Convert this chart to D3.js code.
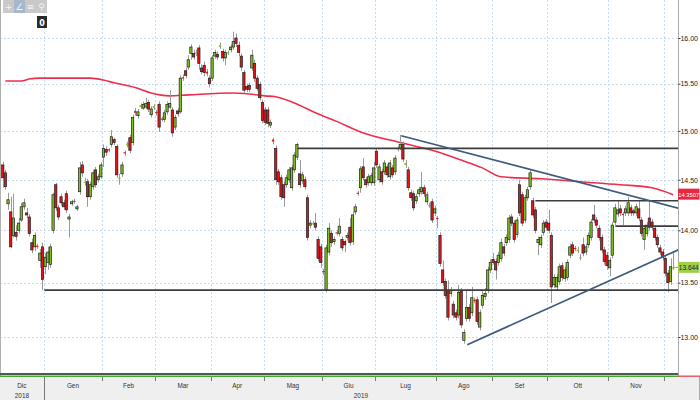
<!DOCTYPE html>
<html><head><meta charset="utf-8">
<script src="https://cdn.jsdelivr.net/npm/d3@7"></script>
<style>
body{margin:0;background:#fff;}
svg{display:block;font-family:"Liberation Sans",sans-serif;}
</style>
</head><body>
<svg id="c" width="700" height="400"></svg>
<script>
// ---- data (prices) ----
const opens=[14.65,14.57,14.26,14.18,13.95,13.98,14.00,14.10,14.23,14.17,14.13,13.88,13.84,13.85,13.71,13.84,13.65,13.69,13.67,14.00,
14.45,14.22,14.33,14.27,14.36,14.11,14.26,14.29,14.21,14.38,14.65,14.47,14.48,14.33,14.43,14.60,14.50,14.53,14.73,14.81,
14.81,14.86,14.91,14.84,14.51,14.56,14.78,14.85,14.93,14.88,15.21,15.16,15.25,15.24,15.25,15.30,15.17,15.24,15.20,15.28,
15.13,15.12,15.20,15.25,15.22,15.04,15.21,15.20,15.57,15.64,15.68,15.83,15.83,15.83,15.89,15.67,15.70,15.63,15.56,15.56,
15.80,15.82,15.90,15.85,15.78,15.83,15.87,15.90,16.00,15.92,15.80,15.62,15.47,15.48,15.67,15.72,15.56,15.49,15.30,15.22,
15.22,15.06,14.91,14.82,14.58,14.52,14.45,14.45,14.50,14.42,14.60,14.73,14.56,14.49,14.50,14.32,14.05,14.06,14.07,13.91,
13.84,13.61,13.43,13.79,13.97,13.89,13.98,13.97,13.91,13.89,13.93,14.03,13.89,14.18,14.37,14.42,14.63,14.50,14.47,14.47,
14.47,14.79,14.50,14.58,14.58,14.63,14.53,14.62,14.58,14.81,14.82,14.86,14.65,14.60,14.37,14.36,14.29,14.36,14.38,14.42,
14.28,14.24,14.28,14.17,14.12,13.95,13.62,13.51,13.43,13.40,13.30,13.22,13.20,13.42,12.97,13.17,13.27,13.22,13.34,13.34,
13.09,13.29,13.37,13.43,13.62,13.72,13.70,13.69,13.73,13.84,13.88,13.91,14.13,14.07,13.96,14.45,14.35,14.10,14.32,14.43,
14.29,14.20,13.88,13.86,13.98,14.08,14.07,13.95,13.48,13.46,13.51,13.66,13.54,13.55,13.76,13.86,13.83,13.80,13.73,13.86,
13.79,13.86,13.93,14.15,14.10,14.02,13.93,13.81,13.76,13.64,13.76,14.08,14.16,14.21,14.16,14.17,14.17,14.22,14.19,14.17,
14.21,14.10,13.91,13.97,14.12,14.08,14.02,13.93,13.83,13.79,13.73,13.59,13.51,13.64];
const highs=[14.68,14.60,14.37,14.33,14.36,14.05,14.12,14.27,14.31,14.22,14.16,13.92,13.98,13.87,13.82,13.88,13.78,13.84,13.87,14.37,
14.47,14.25,14.36,14.30,14.39,14.16,14.30,14.31,14.25,14.68,14.69,14.52,14.51,14.48,14.60,14.63,14.56,14.68,14.86,14.84,
14.82,15.01,14.93,14.86,14.56,14.68,14.80,14.89,14.96,15.17,15.24,15.23,15.29,15.31,15.35,15.33,15.26,15.28,15.22,15.31,
15.15,15.22,15.31,15.43,15.25,15.17,15.24,15.59,15.60,15.67,15.81,15.93,15.87,15.87,15.92,15.71,15.74,15.66,15.59,15.81,
15.87,15.85,15.95,15.88,15.87,15.86,15.93,16.07,16.05,15.96,15.83,15.65,15.50,15.51,15.87,15.76,15.59,15.52,15.33,15.25,
15.25,15.12,14.93,14.85,14.61,14.55,14.48,14.55,14.63,14.65,14.78,14.88,14.70,14.58,14.53,14.35,14.10,14.09,14.17,13.94,
13.87,13.63,13.86,14.07,14.00,13.94,14.00,14.12,13.94,13.91,13.98,14.12,14.18,14.26,14.39,14.64,14.72,14.53,14.56,14.57,
14.68,14.82,14.66,14.61,14.70,14.66,14.70,14.65,14.75,14.84,14.96,14.89,14.70,14.63,14.40,14.39,14.36,14.43,14.58,14.45,
14.38,14.27,14.31,14.24,14.14,13.98,13.71,13.54,13.52,13.46,13.33,13.25,13.48,13.45,13.07,13.43,13.30,13.46,13.36,13.37,
13.25,13.42,13.45,13.65,13.72,13.78,13.73,13.79,13.92,13.87,13.96,14.15,14.16,14.10,14.13,14.50,14.38,14.35,14.43,14.60,
14.32,14.23,13.94,13.96,14.10,14.11,14.20,13.98,13.58,13.58,13.68,13.69,13.65,13.72,13.87,13.89,13.85,13.84,13.77,13.93,
13.87,13.98,14.11,14.25,14.13,14.05,13.96,13.84,13.79,13.74,14.08,14.26,14.29,14.25,14.18,14.24,14.33,14.25,14.21,14.26,
14.30,14.13,14.05,14.08,14.29,14.11,14.05,13.96,13.86,13.82,13.76,13.62,13.73,13.78];
const lows=[14.42,14.40,14.20,13.83,13.93,13.90,13.97,14.08,14.20,14.12,13.94,13.78,13.80,13.82,13.64,13.43,13.58,13.62,13.64,13.97,
14.19,14.10,14.24,14.20,14.17,13.93,14.24,14.26,14.19,14.35,14.53,14.44,14.23,14.30,14.40,14.42,14.47,14.51,14.63,14.74,
14.78,14.83,14.85,14.52,14.45,14.53,14.74,14.83,14.77,14.85,15.16,15.13,15.23,15.22,15.23,15.20,15.14,15.22,15.16,14.99,
15.10,15.09,15.17,15.23,14.94,15.01,15.15,15.18,15.53,15.56,15.65,15.76,15.76,15.80,15.65,15.60,15.58,15.58,15.46,15.53,
15.77,15.76,15.88,15.74,15.70,15.81,15.84,15.87,15.90,15.80,15.64,15.40,15.41,15.41,15.64,15.52,15.42,15.32,15.08,15.06,
15.04,15.03,14.86,14.45,14.45,14.30,14.23,14.42,14.47,14.39,14.57,14.70,14.42,14.46,14.40,13.90,14.02,14.05,14.00,13.70,
13.64,13.57,13.41,13.76,13.84,13.86,13.95,13.94,13.80,13.79,13.90,13.85,13.86,14.15,14.34,14.37,14.49,14.42,14.44,14.44,
14.44,14.62,14.47,14.45,14.55,14.52,14.50,14.52,14.55,14.79,14.80,14.68,14.62,14.39,14.29,14.19,14.26,14.33,14.35,14.33,
14.25,14.22,14.07,14.14,14.02,13.65,13.47,13.35,13.15,13.37,13.17,13.15,13.17,13.08,12.94,13.14,13.14,13.19,13.31,13.11,
13.06,13.26,13.34,13.40,13.59,13.67,13.53,13.66,13.70,13.75,13.85,13.88,14.04,13.88,13.93,14.14,14.04,14.07,14.29,14.40,
14.12,13.97,13.76,13.83,13.95,14.00,13.97,13.31,13.45,13.43,13.48,13.52,13.51,13.52,13.73,13.75,13.80,13.78,13.71,13.75,
13.76,13.83,13.90,14.07,14.02,13.90,13.78,13.67,13.62,13.56,13.73,14.05,14.13,14.14,14.05,14.14,14.14,14.14,14.14,14.14,
14.09,13.94,13.81,13.94,14.00,14.00,13.90,13.83,13.76,13.71,13.56,13.41,13.48,13.62];
const closes=[14.52,14.43,14.30,13.84,14.12,13.94,14.07,14.23,14.27,14.15,13.97,13.81,13.95,13.84,13.78,13.53,13.74,13.79,13.84,14.35,
14.22,14.13,14.27,14.23,14.20,14.13,14.28,14.28,14.23,14.62,14.57,14.48,14.33,14.45,14.57,14.45,14.53,14.65,14.82,14.78,
14.80,14.94,14.88,14.55,14.52,14.65,14.77,14.87,14.80,15.14,15.19,15.20,15.27,15.28,15.29,15.23,15.23,15.26,15.19,15.04,
15.12,15.19,15.28,15.29,14.98,15.14,15.18,15.56,15.56,15.59,15.76,15.90,15.79,15.84,15.72,15.63,15.62,15.61,15.50,15.78,
15.84,15.79,15.92,15.78,15.84,15.84,15.90,15.96,15.94,15.84,15.68,15.43,15.44,15.44,15.81,15.56,15.45,15.35,15.11,15.09,
15.08,15.09,14.89,14.50,14.48,14.33,14.32,14.52,14.60,14.62,14.75,14.86,14.45,14.55,14.43,13.93,14.07,14.07,14.03,13.73,
13.69,13.60,13.83,14.02,13.88,13.91,13.97,14.04,13.83,13.86,13.95,13.88,14.15,14.23,14.36,14.61,14.52,14.45,14.53,14.54,
14.62,14.65,14.63,14.48,14.67,14.55,14.67,14.55,14.72,14.82,14.86,14.71,14.67,14.42,14.32,14.22,14.33,14.40,14.42,14.36,
14.35,14.25,14.10,14.21,14.11,13.68,13.50,13.38,13.18,13.43,13.20,13.18,13.41,13.11,13.04,13.27,13.17,13.36,13.33,13.14,
13.22,13.38,13.40,13.62,13.69,13.69,13.62,13.76,13.88,13.78,13.93,14.12,14.07,13.91,14.10,14.17,14.07,14.32,14.40,14.57,
14.15,14.00,13.91,13.93,14.07,14.03,14.00,13.46,13.55,13.55,13.65,13.55,13.62,13.69,13.84,13.78,13.82,13.81,13.74,13.78,
13.84,13.95,14.08,14.10,14.05,13.93,13.81,13.70,13.66,13.71,14.05,14.22,14.20,14.17,14.15,14.21,14.27,14.17,14.17,14.23,
14.12,13.97,14.02,14.05,14.03,14.03,13.93,13.86,13.79,13.74,13.59,13.50,13.65,13.644];

// 200-day moving average read at sample candles
const maIndex=[1,7,10,14,33,38,42,50,56,63,70,87,93,99,103,112,118,126,135,150,162,173,181,188,203,218,233,245,253];
const maValues=[15.53,15.53,15.55,15.56,15.56,15.54,15.51,15.46,15.40,15.37,15.38,15.40,15.39,15.37,15.36,15.27,15.19,15.10,14.99,14.88,14.80,14.70,14.62,14.53,14.51,14.48,14.45,14.42,14.3507];

const monthStarts=[0,16,38,58,79,99,121,141,164,185,206,229,250];
const monthLabels=["Dic","Gen","Feb","Mar","Apr","Mag","Giu","Lug","Ago","Set","Ott","Nov",""];
const yearLabels=["2018","2019"];
const yearStarts=[0,16];
const yTicks=[13,13.5,14,14.5,15,15.5,16];

// drawn horizontal levels (price, starting candle)
const levelPrices=[13.43,14.82,14.29,14.04];
const levelStartIdx=[15.7,111.2,201,231.2];
// trend lines (candle index, price)
const trendDownIdx=[150.4,255.7], trendDownVal=[14.95,14.21];
const trendUpIdx=[175.3,255.7], trendUpVal=[12.93,13.82];
const maLast=14.3507;

// ---- drawing ----
const N=closes.length;
const svg=d3.select("#c");
const plotR=678, plotB=372;
const x=d3.scaleLinear().domain([0,N-1]).range([2.7,2.7+2.65*(N-1)]);
const y=d3.scaleLog().domain([13,16]).range([337,38]);

// condense text horizontally (narrow font look)
function narrow(sel,f){
  sel.each(function(){
    const w=this.getComputedTextLength();
    if(w>0){this.setAttribute("textLength",(w*f).toFixed(2));this.setAttribute("lengthAdjust","spacingAndGlyphs");}
  });
}

svg.append("defs").append("clipPath").attr("id","clip")
  .append("rect").attr("x",0).attr("y",0).attr("width",plotR).attr("height",plotB);

// grid
const grid=svg.append("g");
grid.selectAll(".hg").data(yTicks).join("line")
  .attr("x1",0).attr("x2",plotR).attr("y1",d=>Math.round(y(d))+0.5).attr("y2",d=>Math.round(y(d))+0.5)
  .attr("stroke","#c6dcf0").attr("stroke-dasharray","2,2");
grid.selectAll(".vg").data(monthStarts.slice(1)).join("line")
  .attr("x1",d=>Math.round(x(d-0.5))+0.5).attr("x2",d=>Math.round(x(d-0.5))+0.5).attr("y1",0).attr("y2",plotB)
  .attr("stroke","#c6dcf0").attr("stroke-dasharray","2,2");

const g=svg.append("g").attr("clip-path","url(#clip)");

// MA
g.append("path").datum(maIndex.map((d,i)=>[d,maValues[i]]))
  .attr("d",d3.line().x(d=>x(d[0])).y(d=>y(d[1])).curve(d3.curveMonotoneX))
  .attr("fill","none").attr("stroke","#ef2d4c").attr("stroke-width",1.6);

// candles
const idx=d3.range(N);
g.selectAll(".wick").data(idx).join("line")
  .attr("x1",i=>Math.round(x(i))+0.5).attr("x2",i=>Math.round(x(i))+0.5)
  .attr("y1",i=>y(highs[i])).attr("y2",i=>y(lows[i]))
  .attr("stroke","#9a9a9a").attr("stroke-width",1);
g.selectAll(".body").data(idx).join("rect")
  .attr("x",i=>x(i)-1.1).attr("width",2.3)
  .attr("y",i=>y(Math.max(opens[i],closes[i])))
  .attr("height",i=>Math.max(1.2,Math.abs(y(opens[i])-y(closes[i]))))
  .attr("fill",i=>closes[i]>=opens[i]?"#7fc31c":"#e5141b")
  .attr("stroke",i=>Math.abs(y(opens[i])-y(closes[i]))>2?"#1e1e1e":"none")
  .attr("stroke-width",0.7);

// levels
g.selectAll(".lvl").data(levelPrices).join("line")
  .attr("x1",(d,i)=>x(levelStartIdx[i])).attr("x2",plotR)
  .attr("y1",d=>y(d)).attr("y2",d=>y(d))
  .attr("stroke","#3c3c3c").attr("stroke-width",1.7);
// trend lines
[[trendDownIdx,trendDownVal],[trendUpIdx,trendUpVal]].forEach(([ii,vv])=>{
  g.append("line").attr("x1",x(ii[0])).attr("y1",y(vv[0])).attr("x2",x(ii[1])).attr("y2",y(vv[1]))
   .attr("stroke","#3b5a7c").attr("stroke-width",1.7);
});

// frame
svg.append("line").attr("x1",0.5).attr("x2",0.5).attr("y1",0).attr("y2",377).attr("stroke","#b0b0b0");
svg.append("line").attr("x1",plotR+0.5).attr("x2",plotR+0.5).attr("y1",0).attr("y2",377).attr("stroke","#a8a8a8");

// right axis
const ax=svg.append("g").attr("transform",`translate(${plotR+0.5},0)`)
  .call(d3.axisRight(y).tickValues(yTicks).tickFormat(d3.format(".2f")).tickSize(2));
ax.select(".domain").remove();
ax.selectAll(".tick line").attr("stroke","#333");
ax.selectAll(".tick text").attr("x",19.5).attr("text-anchor","end").attr("font-size",7).attr("fill","#222");

// price labels
const lab=svg.append("g");
const lastC=closes[N-1];
svg.append("line").attr("x1",x(N-1)).attr("x2",678).attr("y1",y(lastC)).attr("y2",y(lastC)).attr("stroke","#f08a2a");
lab.append("rect").attr("x",678).attr("y",y(maLast)-6).attr("width",21.5).attr("height",11).attr("fill","#e8283e");
lab.append("text").attr("x",688.8).attr("y",y(maLast)+2.2).attr("text-anchor","middle").attr("font-size",5.8)
  .attr("fill","#fff").text(maLast.toFixed(4));
lab.append("rect").attr("x",678).attr("y",y(lastC)-5.5).attr("width",21.5).attr("height",11).attr("fill","#9ed04a");
lab.append("text").attr("x",688.8).attr("y",y(lastC)+2.5).attr("text-anchor","middle").attr("font-size",6.5)
  .attr("fill","#223").text(lastC.toFixed(3));

// bottom strip & time axis
svg.append("rect").attr("x",0).attr("y",377).attr("width",700).attr("height",23).attr("fill","#efefef");
svg.append("line").attr("x1",0).attr("x2",plotR).attr("y1",374).attr("y2",374).attr("stroke","#555").attr("stroke-width",2);
svg.append("line").attr("x1",0).attr("x2",plotR).attr("y1",376.2).attr("y2",376.2).attr("stroke","#3fae2a").attr("stroke-width",1.4);
svg.append("line").attr("x1",plotR).attr("x2",700).attr("y1",376.2).attr("y2",376.2).attr("stroke","#e05060").attr("stroke-width",1.4);
svg.append("line").attr("x1",699.5).attr("x2",699.5).attr("y1",377).attr("y2",400).attr("stroke","#aaa");
const bt=svg.append("g");
bt.selectAll(".mt").data(monthStarts.slice(1)).join("line")
  .attr("x1",d=>Math.round(x(d-0.5))+0.5).attr("x2",d=>Math.round(x(d-0.5))+0.5)
  .attr("y1",377).attr("y2",381).attr("stroke","#777");
bt.selectAll(".yt").data(yearStarts.slice(1)).join("line")
  .attr("x1",d=>Math.round(x(d-0.5))+0.5).attr("x2",d=>Math.round(x(d-0.5))+0.5)
  .attr("y1",377).attr("y2",400).attr("stroke","#777");
const bounds=monthStarts.map(d=>d===0?0:x(d-0.5)).concat([plotR]);
bt.selectAll(".ml").data(monthLabels).join("text")
  .attr("x",(d,i)=>(bounds[i]+bounds[i+1])/2).attr("y",388)
  .attr("text-anchor","middle").attr("font-size",8).attr("fill","#333")
  .text(d=>d).call(narrow,0.8);
const ybounds=yearStarts.map(d=>d===0?0:x(d-0.5)).concat([plotR]);
bt.selectAll(".yl").data(yearLabels).join("text")
  .attr("x",(d,i)=>(ybounds[i]+ybounds[i+1])/2).attr("y",398)
  .attr("text-anchor","middle").attr("font-size",8).attr("fill","#333")
  .text(d=>d).call(narrow,0.8);

// toolbar
const tb=svg.append("g");
tb.append("rect").attr("x",3).attr("y",0).attr("width",44).attr("height",13).attr("fill","#c9c9c9");
tb.append("rect").attr("x",14).attr("y",0).attr("width",11).attr("height",13).attr("fill","#a7b8cc");
["+","∠","≡","⚲"].forEach((s,i)=>{
  tb.append("text").attr("x",8.5+i*11).attr("y",10).attr("text-anchor","middle").attr("font-size",9)
    .attr("fill","#f4f4f4").attr("font-family","DejaVu Sans").text(s);
});
tb.append("rect").attr("x",37).attr("y",16).attr("width",10).attr("height",12).attr("fill","#2a2a2a");
tb.append("text").attr("x",42).attr("y",25.5).attr("text-anchor","middle").attr("font-size",8)
  .attr("fill","#fff").attr("font-family","DejaVu Sans").attr("font-weight","bold").text("0");
</script>
</body></html>
